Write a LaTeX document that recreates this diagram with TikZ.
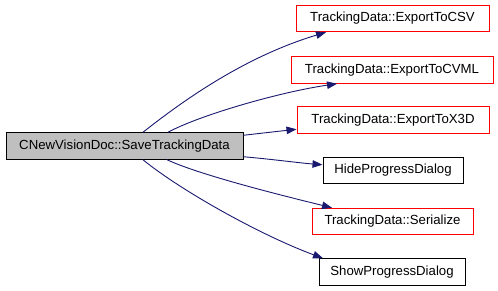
\documentclass[tikz,border=0pt]{standalone}
\usepackage{fontspec}
\setmainfont{Liberation Sans}
\usetikzlibrary{arrows.meta}
\definecolor{edgeblue}{RGB}{25,25,112}
\definecolor{nodegray}{RGB}{191,191,191}
\begin{document}
\begin{tikzpicture}[x=1pt,y=1pt,
  fn/.style={draw=black,line width=1pt,inner sep=0pt,font=\fontsize{13.2}{15}\selectfont,minimum height=26.5pt},
  ext/.style={fn,draw=red},
  call/.style={draw=edgeblue,line width=0.9pt,-{Triangle[length=10pt,width=7.5pt]}}]
\useasboundingbox (0,0) rectangle (498,290);
% caller
\node[fn,fill=nodegray,minimum width=237pt] (main) at (124.5,144) {CNewVisionDoc::SaveTrackingData};
% callees
\node[ext,minimum width=193pt] (csv)  at (392.5,271.5) {TrackingData::ExportToCSV};
\node[ext,minimum width=202pt] (cvml) at (392,220) {TrackingData::ExportToCVML};
\node[ext,minimum width=192pt] (x3d)  at (393,170) {TrackingData::ExportToX3D};
\node[fn,minimum width=140pt]  (hide) at (393,119.5) {HideProgressDialog};
\node[ext,minimum width=161pt] (ser)  at (392.5,68.5) {TrackingData::Serialize};
\node[fn,minimum width=146pt]  (show) at (392,18) {ShowProgressDialog};
% calls
\draw[call] ([xshift=18.5pt]main.north) .. controls (190,195) and (250,235) .. ([xshift=-66.5pt]csv.south);
\draw[call] ([xshift=43.5pt]main.north) .. controls (200,175) and (280,198) .. ([xshift=-55pt]cvml.south);
\draw[call] ([yshift=-3pt]main.north east) -- ([yshift=-23pt]x3d.north west);
\draw[call] ([yshift=3pt]main.south east) .. controls (270,131) and (300,127) .. ([yshift=-8pt]hide.north west);
\draw[call] ([xshift=42.5pt]main.south) .. controls (200,115) and (280,95) .. ([xshift=-60.5pt]ser.north);
\draw[call] ([xshift=18.5pt]main.south) .. controls (180,100) and (260,55) .. ([xshift=-69pt]show.north);
\end{tikzpicture}
\end{document}
